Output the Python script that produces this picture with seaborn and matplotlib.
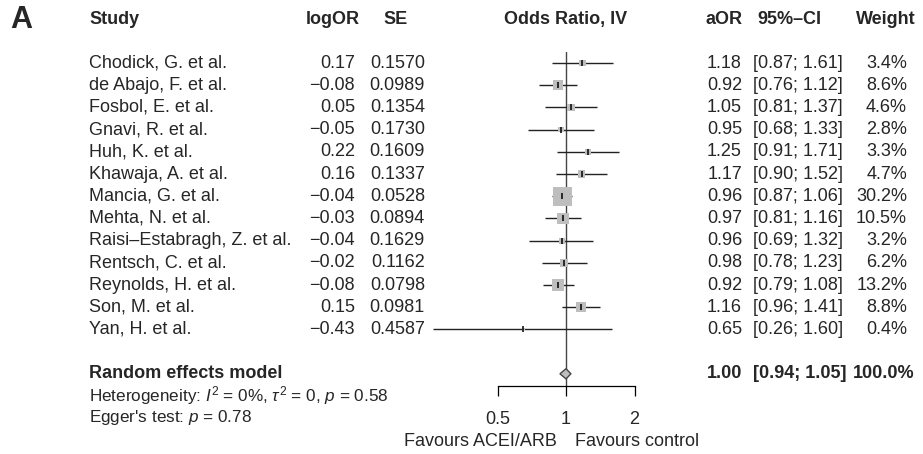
import numpy as np
import seaborn as sns
import matplotlib.pyplot as plt
import matplotlib.transforms as mtransforms

# study level data
studies = [
    "Chodick, G. et al.", "de Abajo, F. et al.", "Fosbol, E. et al.",
    "Gnavi, R. et al.", "Huh, K. et al.", "Khawaja, A. et al.",
    "Mancia, G. et al.", "Mehta, N. et al.", "Raisi\u2013Estabragh, Z. et al.",
    "Rentsch, C. et al.", "Reynolds, H. et al.", "Son, M. et al.", "Yan, H. et al.",
]
log_or = [0.17, -0.08, 0.05, -0.05, 0.22, 0.16, -0.04, -0.03, -0.04, -0.02, -0.08, 0.15, -0.43]
se = [0.1570, 0.0989, 0.1354, 0.1730, 0.1609, 0.1337, 0.0528, 0.0894, 0.1629, 0.1162, 0.0798, 0.0981, 0.4587]
aor = [1.18, 0.92, 1.05, 0.95, 1.25, 1.17, 0.96, 0.97, 0.96, 0.98, 0.92, 1.16, 0.65]
ci_low = [0.87, 0.76, 0.81, 0.68, 0.91, 0.90, 0.87, 0.81, 0.69, 0.78, 0.79, 0.96, 0.26]
ci_high = [1.61, 1.12, 1.37, 1.33, 1.71, 1.52, 1.06, 1.16, 1.32, 1.23, 1.08, 1.41, 1.60]
weight = [3.4, 8.6, 4.6, 2.8, 3.3, 4.7, 30.2, 10.5, 3.2, 6.2, 13.2, 8.8, 0.4]

pooled_or, pooled_low, pooled_high, pooled_weight = 1.00, 0.94, 1.05, 100.0
heterogeneity = r"Heterogeneity: $I^2$ = 0%, $\tau^2$ = 0, $p$ = 0.58"
egger = r"Egger's test: $p$ = 0.78"
x_ticks = [0.5, 1, 2]
x_tick_labels = ["0.5", "1", "2"]


def fmt(v, nd=2):
    return f"{v:.{nd}f}".replace("-", "\u2212")


sns.set_theme(style="white")
plt.rcParams["font.family"] = ["Liberation Sans", "DejaVu Sans"]
plt.rcParams["mathtext.fontset"] = "custom"
plt.rcParams["mathtext.rm"] = "Liberation Sans"
plt.rcParams["mathtext.it"] = "Liberation Sans:italic"

W, H = 923, 454
fig = plt.figure(figsize=(W / 100, H / 100), dpi=100)

# forest panel: log2 x axis, row index on y (top row = 0)
ax = fig.add_axes([420 / W, 0, 280 / W, 1])
ax.set_xscale("log", base=2)
ax.set_xlim(0.228, 3.88)
row_px0, row_step = 63, 22.2
ax.set_ylim((H - row_px0) / row_step, -row_px0 / row_step)
ax.set_facecolor("none")

rows = np.arange(len(studies))
pooled_row = len(studies) + 1
axis_row = 14.55

ax.plot([1, 1], [-0.5, axis_row], color="#444444", lw=1, clip_on=False, zorder=1)

ax.hlines(rows, ci_low, ci_high, color="#222222", lw=1.0, zorder=2)
sns.scatterplot(
    x=aor, y=rows, size=weight, sizes=(6.17 * min(weight), 6.17 * max(weight)),
    marker="s", color="#BEBEBE", linewidth=0, legend=False, ax=ax, zorder=3,
)
ax.scatter(aor, rows, marker="|", s=20, color="black", linewidths=1.1, zorder=4)

dh = 0.23
ax.fill(
    [pooled_low, pooled_or, pooled_high, pooled_or],
    [pooled_row, pooled_row - dh, pooled_row, pooled_row + dh],
    facecolor="#BEBEBE", edgecolor="#444444", lw=1, zorder=4, clip_on=False,
)

for side in ["top", "left", "right"]:
    ax.spines[side].set_visible(False)
ax.spines["bottom"].set_position(("data", axis_row))
ax.spines["bottom"].set_bounds(0.5, 2)
ax.spines["bottom"].set_color("black")
ax.spines["bottom"].set_linewidth(0.9)
ax.set_xticks(x_ticks)
ax.set_xticklabels(x_tick_labels)
ax.minorticks_off()
ax.set_yticks([])
ax.tick_params(axis="x", direction="out", length=7.2, width=0.9, color="black",
               labelsize=13, pad=11, bottom=True)
ax.set_xlabel("")
ax.set_ylabel("")

# text columns: x in figure pixels, y in rows
tr = mtransforms.blended_transform_factory(
    mtransforms.Affine2D().scale(1 / W, 1) + fig.transFigure, ax.transData
)


def put(x, y, s, ha="left", bold=False, size=13):
    ax.text(x, y, s, transform=tr, ha=ha, va="center", fontsize=size,
            fontweight="bold" if bold else "normal", clip_on=False)


head = -1.94
put(10, head, "A", bold=True, size=22)
put(89, head, "Study", bold=True)
put(333, head, "logOR", ha="center", bold=True)
put(396, head, "SE", ha="center", bold=True)
put(566, head, "Odds Ratio, IV", ha="center", bold=True)
put(724, head, "aOR", ha="center", bold=True)
put(789, head, "95%\u2013CI", ha="center", bold=True)
put(886, head, "Weight", ha="center", bold=True)

for i, name in enumerate(studies):
    put(89, i, name)
    put(355, i, fmt(log_or[i]), ha="right")
    put(425, i, fmt(se[i], 4), ha="right")
    put(742, i, fmt(aor[i]), ha="right")
    put(753, i, f"[{ci_low[i]:.2f}; {ci_high[i]:.2f}]")
    put(907, i, f"{weight[i]:.1f}%", ha="right")

put(89, pooled_row, "Random effects model", bold=True)
put(742, pooled_row, fmt(pooled_or), ha="right", bold=True)
put(753, pooled_row, f"[{pooled_low:.2f}; {pooled_high:.2f}]", bold=True)
put(915, pooled_row, f"{pooled_weight:.1f}%", ha="right", bold=True)
put(89, pooled_row + 1, heterogeneity, size=12.3)
put(89, pooled_row + 1.95, egger, size=12.3)

put(557, 17.05, "Favours ACEI/ARB", ha="right")
put(575, 17.05, "Favours control")

fig.savefig("out.png", dpi=100)
